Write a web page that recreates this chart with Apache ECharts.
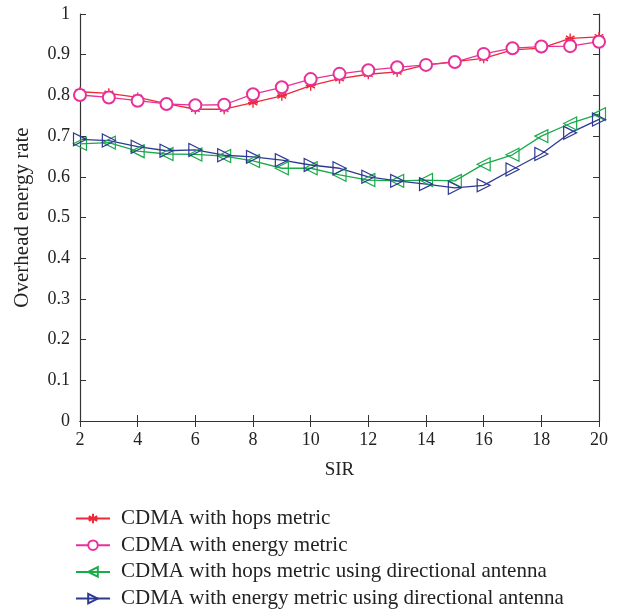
<!DOCTYPE html>
<html>
<head>
<meta charset="utf-8">
<script src="https://cdn.jsdelivr.net/npm/echarts@6/dist/echarts.min.js"></script>
<style>html,body{margin:0;padding:0;background:#fff;}#c{width:624px;height:612px;}</style>
</head>
<body>
<div id="c"></div>
<script>
const sir = [2,3,4,5,6,7,8,9,10,11,12,13,14,15,16,17,18,19,20];
const hops = [0.809,0.805,0.795,0.780,0.766,0.766,0.782,0.799,0.824,0.841,0.852,0.858,0.875,0.883,0.891,0.912,0.916,0.940,0.944];
const energy = [0.801,0.795,0.787,0.779,0.776,0.777,0.803,0.820,0.840,0.853,0.862,0.869,0.875,0.882,0.902,0.916,0.920,0.921,0.932];
const hopsDir = [0.681,0.684,0.663,0.656,0.655,0.651,0.639,0.621,0.621,0.605,0.592,0.590,0.592,0.590,0.631,0.654,0.700,0.731,0.754];
const energyDir = [0.692,0.689,0.674,0.664,0.666,0.653,0.649,0.641,0.629,0.621,0.600,0.590,0.582,0.573,0.579,0.618,0.656,0.708,0.741];
const names = ['CDMA with hops metric','CDMA with energy metric','CDMA with hops metric using directional antenna','CDMA with energy metric using directional antenna'];

const font = '"Liberation Serif", "DejaVu Serif", serif';
const axisCol = '#333';
function pairs(v){ return sir.map((x,i)=>[x,v[i]]); }
const star = 'path://M0,-5L0,5M-4.33,-2.5L4.33,2.5M-4.33,2.5L4.33,-2.5M-5,0L5,0';
const triLeft = 'path://M0,5L10,0L10,10Z';
const triRight = 'path://M10,5L0,0L0,10Z';

function mk(name, data, color, symbol, size, fill, bw){
  return {
    name, type:'line', data: pairs(data), symbol, symbolSize: size,
    lineStyle:{color, width:1.3},
    itemStyle:{color: fill, borderColor: color, borderWidth: bw},
    emphasis:{disabled:true}, animation:false
  };
}

const chart = echarts.init(document.getElementById('c'), null, {renderer:'canvas'});
chart.setOption({
  backgroundColor:'#fff',
  animation:false,
  grid:{left:80, right:25, top:14, bottom:191},
  legend:{
    orient:'vertical', left:70, top:503, height:140, itemGap:5.7, itemWidth:34, itemHeight:12,
    textStyle:{fontFamily:font, fontSize:21, color:'#222', padding:[0,0,0,6]},
    data: names
  },
  xAxis:[{
    type:'value', min:2, max:20, interval:2,
    name:'SIR', nameLocation:'middle', nameGap:40,
    nameTextStyle:{fontFamily:font, fontSize:19, color:'#222'},
    axisLine:{lineStyle:{color:axisCol, width:1.2}},
    axisTick:{inside:true, length:6, lineStyle:{color:axisCol}},
    axisLabel:{fontFamily:font, fontSize:18, color:'#222', margin:10},
    splitLine:{show:false}
  },{
    type:'value', position:'top', min:2, max:20, interval:2,
    axisLine:{show:true, lineStyle:{color:axisCol, width:1.2}},
    axisTick:{inside:true, length:6, lineStyle:{color:axisCol}},
    axisLabel:{show:false}, splitLine:{show:false}
  }],
  yAxis:[{
    type:'value', min:0, max:1, interval:0.1,
    name:'Overhead energy rate', nameLocation:'middle', nameGap:47,
    nameTextStyle:{fontFamily:font, fontSize:21, color:'#222'},
    axisLine:{show:true, lineStyle:{color:axisCol, width:1.2}},
    axisTick:{show:true, inside:true, length:6, lineStyle:{color:axisCol}},
    axisLabel:{fontFamily:font, fontSize:18, color:'#222', margin:10},
    splitLine:{show:false}
  },{
    type:'value', position:'right', min:0, max:1, interval:0.1,
    axisLine:{show:true, lineStyle:{color:axisCol, width:1.2}},
    axisTick:{show:true, inside:true, length:6, lineStyle:{color:axisCol}},
    axisLabel:{show:false}, splitLine:{show:false}
  }],
  series:[
    mk(names[0], hops, '#ee2a3a', star, 10, '#ee2a3a', 1.4),
    mk(names[1], energy, '#e8309a', 'emptyCircle', 12, '#e8309a', 1),
    mk(names[2], hopsDir, '#1aaa4a', triLeft, 13, 'rgba(255,255,255,0)', 1.2),
    mk(names[3], energyDir, '#2e3a92', triRight, 13, 'rgba(255,255,255,0)', 1.2)
  ]
});
</script>
</body>
</html>
